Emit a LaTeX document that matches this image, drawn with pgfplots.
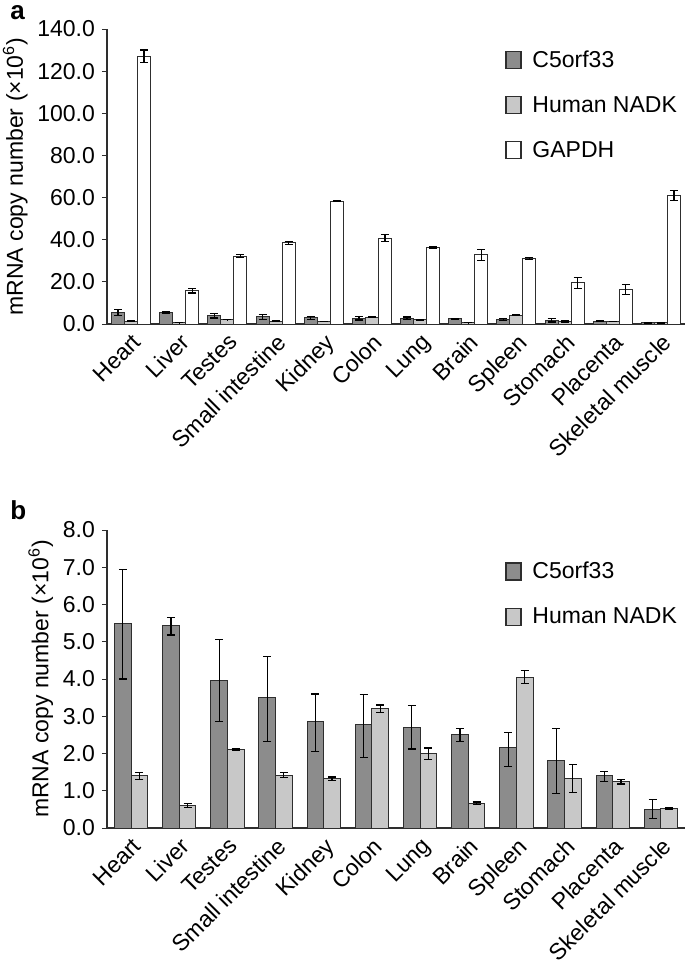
\documentclass[border=0pt]{standalone}
\usepackage{fontspec}
\setmainfont{Liberation Sans}
\usepackage{pgfplots}
\pgfplotsset{compat=1.18}

\definecolor{cA}{HTML}{8C8C8C}
\definecolor{cB}{HTML}{C8C8C8}
\definecolor{edge}{HTML}{2E2E2E}

\pgfplotsset{
 mystyle/.style={
  scale only axis, width=289pt,
  xmin=-0.5, xmax=11.5, ymin=0,
  axis lines=left, axis line style={edge, line width=0.6pt, -},
  xtick={0,...,11},
  xticklabels={Heart,Liver,Testes,Small intestine,Kidney,Colon,Lung,Brain,Spleen,Stomach,Placenta,Skeletal muscle},
  xtick style={draw=none},
  xticklabel style={rotate=45, anchor=north east, inner sep=1pt},
  tick label style={font=\fontsize{11.5}{13}\selectfont},
  label style={font=\fontsize{11.5}{13}\selectfont},
  ytick style={edge, line width=0.5pt},
  tick align=outside, major tick length=2.5pt,
  /pgf/number format/assume math mode=true,
  yticklabel={\pgfmathprintnumber[fixed,fixed zerofill,precision=1]{\tick}},
  ylabel={mRNA copy number (×10\textsuperscript{6})},
  ylabel shift=-2pt,
  legend style={draw=none, fill=none, font=\fontsize{11.5}{13}\selectfont, row sep=9pt, anchor=north west, legend cell align=left},
  ybar,
  error bars/y dir=both, error bars/y explicit,
  error bars/error bar style={black, line width=0.6pt},
  error bars/error mark options={rotate=90, black, mark size=2pt, line width=0.6pt},
 },
 myleg/.style={legend image code/.code={\draw[##1, line width=0.7pt] (0pt,-4pt) rectangle (7.5pt,4.5pt); \path (11pt,0pt);}},
}

\begin{document}
\begin{tikzpicture}
\useasboundingbox (0,0) rectangle (342.5pt,-481pt);
\node[anchor=north west, font=\bfseries\fontsize{13}{14}\selectfont, inner sep=0pt] at (5pt,-2.5pt) {a};
\node[anchor=north west, font=\bfseries\fontsize{13}{14}\selectfont, inner sep=0pt] at (5pt,-250pt) {b};

% Panel a
\begin{axis}[mystyle, at={(53.5pt,-162pt)}, anchor=south west,
  height=147.5pt, ymax=140, ytick={0,20,...,140},
  legend style={at={(0.678,0.955)}}]
\addplot[myleg, fill=cA, draw=edge, line width=0.5pt, bar width=0.27, bar shift=-0.27] coordinates {
 (0,5.50) += (0,1.45) -= (0,1.50)
 (1,5.43) += (0,0.22) -= (0,0.25)
 (2,3.97) += (0,1.08) -= (0,1.12)
 (3,3.50) += (0,1.10) -= (0,1.18)
 (4,2.85) += (0,0.75) -= (0,0.80)
 (5,2.77) += (0,0.81) -= (0,0.87)
 (6,2.70) += (0,0.58) -= (0,0.58)
 (7,2.50) += (0,0.18) -= (0,0.17)
 (8,2.15) += (0,0.41) -= (0,0.50)
 (9,1.80) += (0,0.88) -= (0,0.88)
 (10,1.40) += (0,0.12) -= (0,0.15)
 (11,0.50) += (0,0.27) -= (0,0.25)
};
\addlegendentry{C5orf33}
\addplot[myleg, fill=cB, draw=edge, line width=0.5pt, bar width=0.27, bar shift=0] coordinates {
 (0,1.40) += (0,0.08) -= (0,0.10)
 (1,0.60) += (0,0.05) -= (0,0.05)
 (2,2.10) += (0,0.02) -= (0,0.02)
 (3,1.42) += (0,0.08) -= (0,0.06)
 (4,1.33) += (0,0.04) -= (0,0.05)
 (5,3.20) += (0,0.10) -= (0,0.10)
 (6,2.00) += (0,0.15) -= (0,0.17)
 (7,0.67) += (0,0.03) -= (0,0.04)
 (8,4.05) += (0,0.18) -= (0,0.18)
 (9,1.33) += (0,0.37) -= (0,0.38)
 (10,1.24) += (0,0.06) -= (0,0.06)
 (11,0.53) += (0,0.02) -= (0,0.02)
};
\addlegendentry{Human NADK}
\addplot[myleg, fill=white, draw=edge, line width=0.5pt, bar width=0.27, bar shift=0.27] coordinates {
 (0,127.0) +- (0,3.0)
 (1,15.7) +- (0,1.0)
 (2,32.2) +- (0,0.6)
 (3,38.6) +- (0,0.7)
 (4,58.3) +- (0,0.2)
 (5,40.8) +- (0,1.6)
 (6,36.4) +- (0,0.3)
 (7,32.8) +- (0,2.7)
 (8,31.1) +- (0,0.3)
 (9,19.5) +- (0,2.7)
 (10,16.3) +- (0,2.4)
 (11,61.1) +- (0,2.3)
};
\addlegendentry{GAPDH}
\end{axis}

% Panel b
\begin{axis}[mystyle, at={(53.5pt,-414pt)}, anchor=south west,
  height=149pt, ymax=8, ytick={0,1,...,8},
  legend style={at={(0.678,0.92)}}]
\addplot[myleg, fill=cA, draw=edge, line width=0.5pt, bar width=0.345, bar shift=-0.1725] coordinates {
 (0,5.50) += (0,1.45) -= (0,1.50)
 (1,5.43) += (0,0.22) -= (0,0.25)
 (2,3.97) += (0,1.08) -= (0,1.12)
 (3,3.50) += (0,1.10) -= (0,1.18)
 (4,2.85) += (0,0.75) -= (0,0.80)
 (5,2.77) += (0,0.81) -= (0,0.87)
 (6,2.70) += (0,0.58) -= (0,0.58)
 (7,2.50) += (0,0.18) -= (0,0.17)
 (8,2.15) += (0,0.41) -= (0,0.50)
 (9,1.80) += (0,0.88) -= (0,0.88)
 (10,1.40) += (0,0.12) -= (0,0.15)
 (11,0.50) += (0,0.27) -= (0,0.25)
};
\addlegendentry{C5orf33}
\addplot[myleg, fill=cB, draw=edge, line width=0.5pt, bar width=0.345, bar shift=0.1725] coordinates {
 (0,1.40) += (0,0.08) -= (0,0.10)
 (1,0.60) += (0,0.05) -= (0,0.05)
 (2,2.10) += (0,0.02) -= (0,0.02)
 (3,1.42) += (0,0.08) -= (0,0.06)
 (4,1.33) += (0,0.04) -= (0,0.05)
 (5,3.20) += (0,0.10) -= (0,0.10)
 (6,2.00) += (0,0.15) -= (0,0.17)
 (7,0.67) += (0,0.03) -= (0,0.04)
 (8,4.05) += (0,0.18) -= (0,0.18)
 (9,1.33) += (0,0.37) -= (0,0.38)
 (10,1.24) += (0,0.06) -= (0,0.06)
 (11,0.53) += (0,0.02) -= (0,0.02)
};
\addlegendentry{Human NADK}
\end{axis}
\end{tikzpicture}
\end{document}
